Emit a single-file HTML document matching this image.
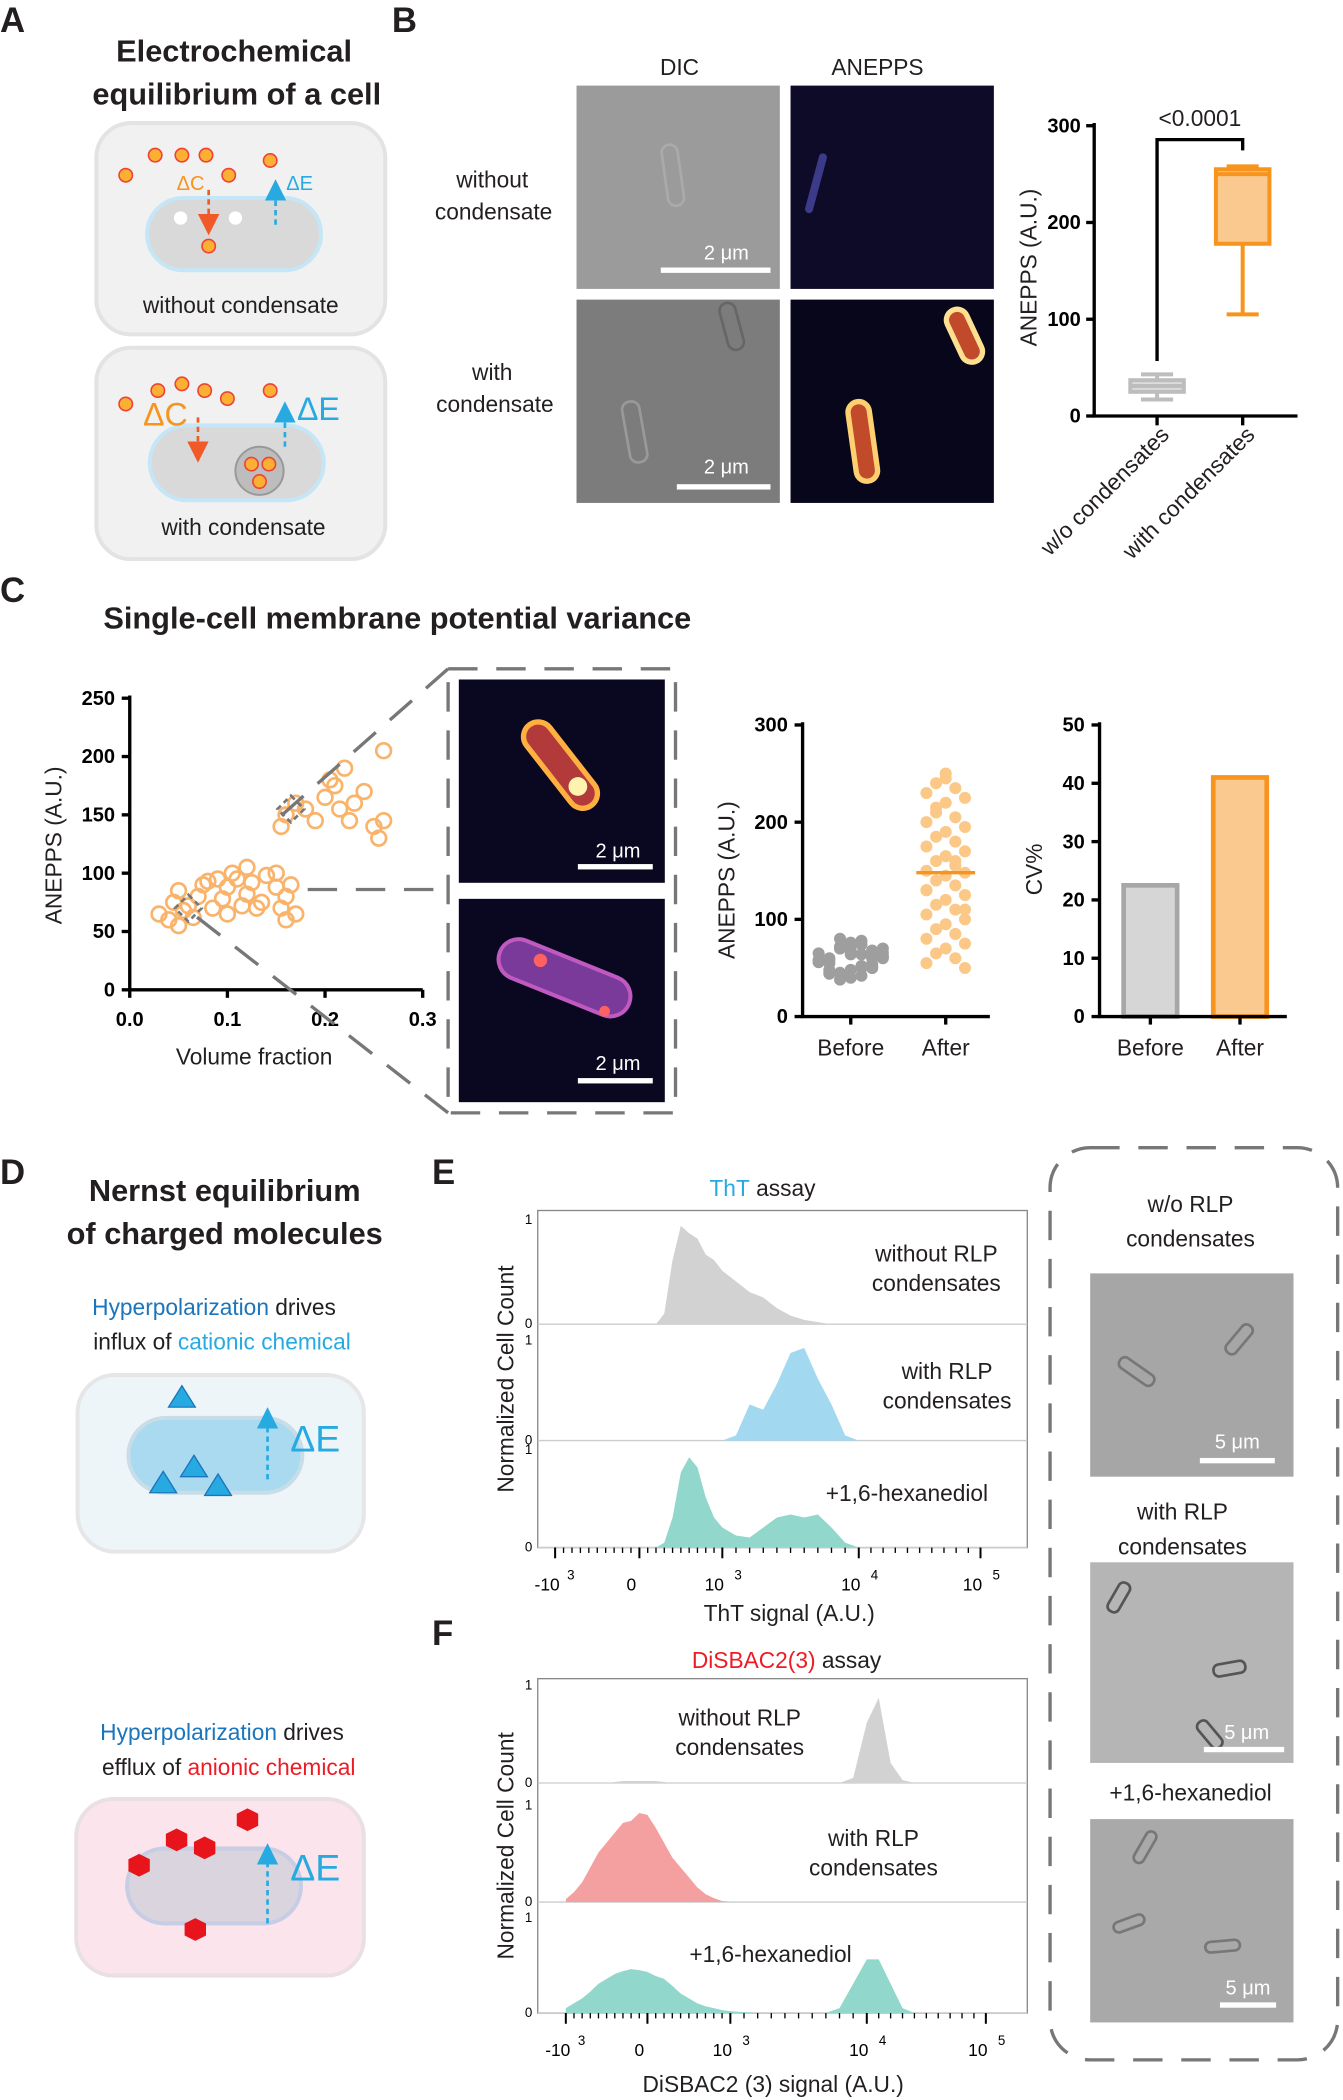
<!DOCTYPE html>
<html><head><meta charset="utf-8"><style>
html,body{margin:0;padding:0;background:#fff;}
svg{display:block;font-family:"Liberation Sans Narrow","Liberation Sans",sans-serif;}
.t{font-size:17px;fill:#231f20}
.b{font-weight:bold;font-size:23px;fill:#231f20}
.L{font-weight:bold;font-size:26px;fill:#231f20;font-family:"Liberation Sans",sans-serif}
.ax{stroke:#000;stroke-width:2.5;fill:none}
.tk{font-size:15px;font-weight:bold;fill:#000;font-family:"Liberation Sans",sans-serif}
</style></head><body>
<svg id="fig" width="1343" height="2100" viewBox="0 0 1004 1570" preserveAspectRatio="none" xmlns="http://www.w3.org/2000/svg">
<defs>
<marker id="ao" markerWidth="8" markerHeight="8" refX="4" refY="4" orient="auto"><path d="M0,0L8,4L0,8z" fill="#f05a28"/></marker>
<marker id="ab" markerWidth="8" markerHeight="8" refX="4" refY="4" orient="auto"><path d="M0,0L8,4L0,8z" fill="#27aae1"/></marker>
</defs>
<!-- Panel A -->
<g>
<text class="L" x="0" y="24">A</text>
<text class="b" x="175" y="46" text-anchor="middle">Electrochemical</text>
<text class="b" x="177" y="78" text-anchor="middle">equilibrium of a cell</text>
<rect x="72" y="92" width="216" height="158" rx="26" fill="#f1f1f1" stroke="#e3e3e3" stroke-width="3"/>
<rect x="110" y="148" width="130" height="54" rx="27" fill="#d9d9d9" stroke="#c5e6f6" stroke-width="3"/>
<circle cx="135" cy="163" r="5" fill="#fff"/><circle cx="176" cy="163" r="5" fill="#fff"/>
<g fill="#fbb034" stroke="#ef4136" stroke-width="1.2">
<circle cx="94" cy="131" r="5"/><circle cx="116" cy="116" r="5"/><circle cx="136" cy="116" r="5"/><circle cx="154" cy="116" r="5"/><circle cx="171" cy="131" r="5"/><circle cx="202" cy="120" r="5"/><circle cx="156" cy="184" r="5"/></g>
<line x1="156" y1="142" x2="156" y2="168" stroke="#f05a28" stroke-width="2" stroke-dasharray="4,3" marker-end="url(#ao)"/>
<line x1="206" y1="168" x2="206" y2="142" stroke="#27aae1" stroke-width="2" stroke-dasharray="4,3" marker-end="url(#ab)"/>
<text x="132" y="142" font-size="15" fill="#f7941d">ΔC</text><text x="214" y="142" font-size="15" fill="#27aae1">ΔE</text>
<text class="t" x="180" y="234" text-anchor="middle">without condensate</text>
<rect x="72" y="260" width="216" height="158" rx="26" fill="#f1f1f1" stroke="#e3e3e3" stroke-width="3"/>
<rect x="112" y="318" width="130" height="56" rx="28" fill="#d9d9d9" stroke="#c5e6f6" stroke-width="3"/>
<circle cx="194" cy="352" r="18" fill="#bdbdbd" stroke="#999" stroke-width="1.5"/>
<g fill="#fbb034" stroke="#ef4136" stroke-width="1.2">
<circle cx="94" cy="302" r="5"/><circle cx="118" cy="292" r="5"/><circle cx="136" cy="287" r="5"/><circle cx="153" cy="292" r="5"/><circle cx="170" cy="298" r="5"/><circle cx="202" cy="292" r="5"/><circle cx="188" cy="347" r="5"/><circle cx="201" cy="347" r="5"/><circle cx="194" cy="360" r="5"/></g>
<line x1="148" y1="312" x2="148" y2="338" stroke="#f05a28" stroke-width="2" stroke-dasharray="4,3" marker-end="url(#ao)"/>
<line x1="213" y1="334" x2="213" y2="308" stroke="#27aae1" stroke-width="2" stroke-dasharray="4,3" marker-end="url(#ab)"/>
<text x="107" y="318" font-size="24" fill="#f7941d">ΔC</text><text x="222" y="314" font-size="24" fill="#27aae1">ΔE</text>
<text class="t" x="182" y="400" text-anchor="middle">with condensate</text>
</g>
<!-- Panel B -->
<g>
<text class="L" x="293" y="24">B</text>
<text class="t" x="508" y="56" text-anchor="middle">DIC</text><text class="t" x="656" y="56" text-anchor="middle">ANEPPS</text>
<text class="t" x="368" y="140" text-anchor="middle">without</text><text class="t" x="369" y="164" text-anchor="middle">condensate</text>
<text class="t" x="368" y="284" text-anchor="middle">with</text><text class="t" x="370" y="308" text-anchor="middle">condensate</text>
<rect x="431" y="64" width="152" height="152" fill="#9b9b9b"/>
<rect x="497" y="108" width="12" height="46" rx="6" fill="none" stroke="#aaa" stroke-width="2" transform="rotate(-8 503 131)"/>
<rect x="494" y="200" width="82" height="4" fill="#fff"/><text x="543" y="194" font-size="15" fill="#fff" text-anchor="middle">2 μm</text>
<rect x="591" y="64" width="152" height="152" fill="#0e0b28"/>
<rect x="607" y="114" width="6" height="46" rx="3" fill="#3b3b8a" transform="rotate(15 610 137)"/>
<rect x="431" y="224" width="152" height="152" fill="#7c7c7c"/>
<rect x="468" y="300" width="13" height="46" rx="6" fill="none" stroke="#999" stroke-width="2" transform="rotate(-10 474 323)"/>
<rect x="541" y="226" width="12" height="36" rx="6" fill="none" stroke="#666" stroke-width="2" transform="rotate(-15 547 244)"/>
<rect x="506" y="362" width="70" height="4" fill="#fff"/><text x="543" y="354" font-size="15" fill="#fff" text-anchor="middle">2 μm</text>
<rect x="591" y="224" width="152" height="152" fill="#07061a"/>
<rect x="637" y="300" width="16" height="60" rx="8" fill="#c04a2a" stroke="#ffd070" stroke-width="4" transform="rotate(-8 645 330)"/>
<rect x="713" y="230" width="16" height="42" rx="8" fill="#c04a2a" stroke="#ffe090" stroke-width="4" transform="rotate(-25 721 251)"/>
<g id="boxplot"></g>
</g>
<!-- Panel C -->
<g>
<text class="L" x="0" y="450">C</text>
<text class="b" x="297" y="470" text-anchor="middle">Single-cell membrane potential variance</text>
<g id="scatter"></g>
<g stroke="#777" stroke-width="2.5" fill="none" stroke-dasharray="22,14">
<path d="M335,500 L505,500 L505,832 L335,832 Z"/>
<line x1="335" y1="500" x2="210" y2="610"/><line x1="230" y1="665" x2="335" y2="665"/><line x1="335" y1="832" x2="140" y2="680"/>
</g>
<rect x="343" y="508" width="154" height="152" fill="#0a0820"/>
<rect x="408" y="534" width="22" height="76" rx="11" fill="#b23a3a" stroke="#ffb040" stroke-width="4" transform="rotate(-38 419 572)"/>
<circle cx="432" cy="588" r="7" fill="#fff3b0"/>
<rect x="432" y="646" width="56" height="4" fill="#fff"/><text x="462" y="641" font-size="15" fill="#fff" text-anchor="middle">2 μm</text>
<rect x="343" y="672" width="154" height="152" fill="#0a0820"/>
<rect x="370" y="716" width="104" height="30" rx="15" fill="#7a3a9a" stroke="#c05ac0" stroke-width="3" transform="rotate(22 422 731)"/>
<circle cx="404" cy="718" r="5" fill="#ff6060"/><circle cx="452" cy="756" r="4" fill="#ff6060"/>
<rect x="432" y="806" width="56" height="4" fill="#fff"/><text x="462" y="800" font-size="15" fill="#fff" text-anchor="middle">2 μm</text>
<g id="dotplot"></g>
<g id="cvbars"></g>
</g>
<!-- Panel D -->
<g>
<text class="L" x="0" y="885">D</text>
<text class="b" x="168" y="898" text-anchor="middle">Nernst equilibrium</text>
<text class="b" x="168" y="930" text-anchor="middle">of  charged molecules</text>
<text class="t" x="160" y="983" text-anchor="middle"><tspan fill="#1b75bc">Hyperpolarization</tspan> drives</text>
<text class="t" x="166" y="1009" text-anchor="middle">influx of <tspan fill="#27aae1">cationic chemical</tspan></text>
<rect x="58" y="1028" width="214" height="132" rx="28" fill="#eef5f9" stroke="#e6e6e6" stroke-width="3"/>
<rect x="96" y="1060" width="130" height="56" rx="28" fill="#a9daf0" stroke="#c8dde8" stroke-width="3"/>
<g fill="#27aae1" stroke="#1b75bc" stroke-width="1"><path d="M136,1036 L146,1052 L126,1052Z"/><path d="M145,1088 L155,1104 L135,1104Z"/><path d="M122,1100 L132,1116 L112,1116Z"/><path d="M163,1102 L173,1118 L153,1118Z"/></g>
<line x1="200" y1="1106" x2="200" y2="1060" stroke="#27aae1" stroke-width="2" stroke-dasharray="4,3" marker-end="url(#ab)"/>
<text x="217" y="1085" font-size="28" fill="#27aae1">ΔE</text>
<text class="t" x="166" y="1301" text-anchor="middle"><tspan fill="#1b75bc">Hyperpolarization</tspan> drives</text>
<text class="t" x="171" y="1327" text-anchor="middle">efflux of <tspan fill="#ed1c24">anionic chemical</tspan></text>
<rect x="57" y="1345" width="215" height="132" rx="28" fill="#fce4ec" stroke="#e9e0e3" stroke-width="3"/>
<rect x="95" y="1382" width="130" height="56" rx="28" fill="#dad4de" stroke="#c6cde4" stroke-width="3"/>
<g fill="#e8141c"><polygon points="185,1352 193,1356 193,1365 185,1369 177,1365 177,1356"/><polygon points="132,1367 140,1371 140,1380 132,1384 124,1380 124,1371"/><polygon points="153,1373 161,1377 161,1386 153,1390 145,1386 145,1377"/><polygon points="104,1386 112,1390 112,1399 104,1403 96,1399 96,1390"/><polygon points="146,1434 154,1438 154,1447 146,1451 138,1447 138,1438"/></g>
<line x1="200" y1="1438" x2="200" y2="1386" stroke="#27aae1" stroke-width="2" stroke-dasharray="4,3" marker-end="url(#ab)"/>
<text x="217" y="1406" font-size="28" fill="#27aae1">ΔE</text>
</g>
<!-- Panel E/F -->
<text class="L" x="323" y="885">E</text>
<text class="t" x="570" y="894" text-anchor="middle" font-size="18"><tspan fill="#27aae1">ThT</tspan> assay</text>
<g id="histE"></g>
<text class="t" x="590" y="1212" text-anchor="middle">ThT signal (A.U.)</text>
<text class="L" x="323" y="1230">F</text>
<text class="t" x="588" y="1247" text-anchor="middle" font-size="18"><tspan fill="#ed1c24">DiSBAC2(3)</tspan> assay</text>
<g id="histF"></g>
<text class="t" x="578" y="1564" text-anchor="middle">DiSBAC2 (3) signal (A.U.)</text>
<!-- Right images -->
<g>
<rect x="785" y="858" width="215" height="682" rx="30" fill="none" stroke="#777" stroke-width="2.5" stroke-dasharray="22,14"/>
<text class="t" x="890" y="906" text-anchor="middle" font-size="19">w/o RLP</text><text class="t" x="890" y="932" text-anchor="middle" font-size="19">condensates</text>
<rect x="815" y="952" width="152" height="152" fill="#a6a6a6"/>
<rect x="845" y="1010" width="9" height="30" rx="4" fill="none" stroke="#777" stroke-width="2" transform="rotate(-55 850 1025)"/>
<rect x="922" y="988" width="9" height="26" rx="4" fill="none" stroke="#777" stroke-width="2" transform="rotate(40 926 1001)"/>
<rect x="897" y="1090" width="56" height="4" fill="#fff"/><text x="925" y="1083" font-size="15" fill="#fff" text-anchor="middle">5 μm</text>
<text class="t" x="884" y="1136" text-anchor="middle" font-size="19">with RLP</text><text class="t" x="884" y="1162" text-anchor="middle" font-size="19">condensates</text>
<rect x="815" y="1168" width="152" height="150" fill="#b5b5b5"/>
<rect x="832" y="1182" width="9" height="24" rx="4" fill="none" stroke="#555" stroke-width="2" transform="rotate(30 836 1194)"/>
<rect x="915" y="1235" width="9" height="24" rx="4" fill="none" stroke="#555" stroke-width="2" transform="rotate(80 919 1247)"/>
<rect x="900" y="1285" width="9" height="24" rx="4" fill="none" stroke="#555" stroke-width="2" transform="rotate(-40 904 1297)"/>
<rect x="900" y="1306" width="60" height="4" fill="#fff"/><text x="932" y="1300" font-size="15" fill="#fff" text-anchor="middle">5 μm</text>
<text class="t" x="890" y="1346" text-anchor="middle" font-size="19">+1,6-hexanediol</text>
<rect x="815" y="1360" width="152" height="152" fill="#a9a9a9"/>
<rect x="852" y="1368" width="8" height="26" rx="4" fill="none" stroke="#777" stroke-width="2" transform="rotate(30 856 1381)"/>
<rect x="840" y="1426" width="8" height="24" rx="4" fill="none" stroke="#777" stroke-width="2" transform="rotate(70 844 1438)"/>
<rect x="910" y="1442" width="8" height="26" rx="4" fill="none" stroke="#777" stroke-width="2" transform="rotate(85 914 1455)"/>
<rect x="912" y="1497" width="42" height="4" fill="#fff"/><text x="933" y="1491" font-size="15" fill="#fff" text-anchor="middle">5 μm</text>
</g>
</svg>
<script>
// ---------- data ----------
const boxCategories = ["w/o condensates", "with condensates"];
const boxMin = [17, 105];
const boxQ1 = [25, 178];
const boxMedian = [31, 250];
const boxQ3 = [37, 255];
const boxMax = [43, 258];
const boxTicks = [0, 100, 200, 300];
const pLabel = "<0.0001";

const scatterVF = [0.03,0.04,0.045,0.05,0.05,0.055,0.06,0.065,0.07,0.075,0.08,0.085,0.09,0.095,0.1,0.1,0.105,0.11,0.115,0.12,0.12,0.125,0.13,0.135,0.14,0.15,0.15,0.155,0.16,0.16,0.165,0.17,0.155,0.16,0.17,0.18,0.19,0.2,0.205,0.21,0.22,0.225,0.23,0.24,0.25,0.255,0.26,0.26,0.215];
const scatterANEPPS = [65,60,75,85,55,68,72,62,80,90,93,70,95,78,88,65,100,95,72,82,105,92,70,75,98,88,100,70,60,80,90,65,140,150,160,155,145,165,180,175,190,145,160,170,140,130,145,205,155];
const scatterXTicks = [0.0, 0.1, 0.2, 0.3];
const scatterYTicks = [0, 50, 100, 150, 200, 250];
const diamondVF = [0.06, 0.165];
const diamondANEPPS = [70, 155];

const dotCategories = ["Before", "After"];
const beforeValues = [40,45,50,55,60,65,70,75,80,42,48,52,58,62,68,72,78,44,50,56,60,64,70,74,46,54,58,66,76,38,52,60,68,56,62,48,70,64,58,50];
const afterValues = [250,240,235,230,225,220,210,205,200,195,190,185,180,175,170,165,160,155,150,148,145,140,135,130,125,120,115,110,105,100,95,90,85,80,75,70,65,60,55,50,245,215,160,130,110];
const afterMedian = 148;
const dotTicks = [0, 100, 200, 300];

const cvCategories = ["Before", "After"];
const cvValues = [22.5, 41];
const cvTicks = [0, 10, 20, 30, 40, 50];

const binT = [-1.0,-0.9,-0.8,-0.7,-0.6,-0.5,-0.4,-0.3,-0.2,-0.1,0.0,0.1,0.2,0.3,0.4,0.5,0.6,0.7,0.8,0.9,1.0,1.1,1.2,1.3,1.4,1.5,1.6,1.7,1.8,1.9,2.0,2.1,2.2,2.3,2.4,2.5,2.6,2.7,2.8,2.9,3.0];
const thtWithout = [0,0,0,0,0,0,0,0,0,0,0,0,0,0.1,0.6,0.92,0.85,0.8,0.65,0.6,0.5,0.4,0.3,0.25,0.15,0.08,0.04,0.02,0,0,0,0,0,0,0,0,0,0,0,0,0];
const thtWith = [0,0,0,0,0,0,0,0,0,0,0,0,0,0,0,0,0,0,0,0,0,0.05,0.35,0.3,0.55,0.85,0.9,0.6,0.35,0.05,0,0,0,0,0,0,0,0,0,0,0];
const thtHex = [0,0,0,0,0,0,0,0,0,0,0,0,0,0.05,0.3,0.75,0.9,0.8,0.5,0.3,0.2,0.12,0.1,0.2,0.3,0.33,0.3,0.33,0.2,0.05,0,0,0,0,0,0,0,0,0,0,0];
const disWithout = [0,0,0,0,0,0,0.01,0.02,0.02,0.02,0.02,0.02,0.01,0,0,0,0,0,0,0,0,0,0,0,0,0,0,0,0,0.05,0.6,0.85,0.2,0.03,0,0,0,0,0,0,0];
const disWith = [0.03,0.1,0.2,0.35,0.5,0.6,0.7,0.8,0.82,0.9,0.88,0.75,0.6,0.45,0.35,0.25,0.15,0.08,0.04,0.01,0,0,0,0,0,0,0,0,0,0,0,0,0,0,0,0,0,0,0,0,0];
const disHex = [0.05,0.1,0.15,0.22,0.3,0.35,0.4,0.43,0.45,0.44,0.42,0.38,0.35,0.28,0.2,0.15,0.1,0.07,0.05,0.03,0.02,0.01,0,0,0,0,0,0,0.05,0.3,0.55,0.55,0.3,0.05,0,0,0,0,0,0,0];
const tickExpLabels = ["-10","0","10","10","10"];
const tickExpPowers = ["3","","3","4","5"];
const tickT = [-1, 0, 1, 2, 3];

// ---------- helpers ----------
const NS = "http://www.w3.org/2000/svg";
function mk(parent, tag, attrs, text) {
  const el = document.createElementNS(NS, tag);
  for (const k in attrs) el.setAttribute(k, attrs[k]);
  if (text !== undefined) el.textContent = text;
  parent.appendChild(el);
  return el;
}

// ---------- Box plot ----------
(function(){
  const g = document.getElementById('boxplot');
  const y = v => 311 - v * (217/300);
  const xc = [865, 929];
  mk(g,'path',{d:'M818,92 L818,311 L970,311',class:'ax'});
  boxTicks.forEach(t=>{
    mk(g,'line',{x1:812,x2:818,y1:y(t),y2:y(t),stroke:'#000','stroke-width':2.5});
    const tx = mk(g,'text',{x:808,y:y(t)+5,'text-anchor':'end',class:'tk'},t);
    
    
  });
  const yl = mk(g,'text',{x:0,y:0,class:'t',transform:'translate(775,200) rotate(-90)','text-anchor':'middle'},'ANEPPS (A.U.)');
  
  
  const cols = [['#bdbdbd','#dcdcdc'],['#f7941d','#f9c98f']];
  boxCategories.forEach((c,i)=>{
    const x = xc[i], w = 40, col = cols[i];
    mk(g,'line',{x1:x,x2:x,y1:y(boxMin[i]),y2:y(boxMax[i]),stroke:col[0],'stroke-width':3});
    mk(g,'line',{x1:x-12,x2:x+12,y1:y(boxMin[i]),y2:y(boxMin[i]),stroke:col[0],'stroke-width':3});
    mk(g,'line',{x1:x-12,x2:x+12,y1:y(boxMax[i]),y2:y(boxMax[i]),stroke:col[0],'stroke-width':3});
    const r = mk(g,'rect',{x:x-w/2,y:y(boxQ3[i]),width:w,height:y(boxQ1[i])-y(boxQ3[i]),fill:col[1],stroke:col[0],'stroke-width':3});
    
    
    mk(g,'line',{x1:x-w/2,x2:x+w/2,y1:y(boxMedian[i]),y2:y(boxMedian[i]),stroke:col[0],'stroke-width':3});
    mk(g,'line',{x1:x,x2:x,y1:311,y2:318,stroke:'#000','stroke-width':2.5});
    const lt = mk(g,'text',{x:0,y:0,class:'t',transform:`translate(${x+10},${326}) rotate(-45)`,'text-anchor':'end','font-size':18},c);
    
    
  });
  const top = y(Math.max(...boxMax)) - 20;
  mk(g,'path',{d:`M${xc[0]},${y(boxMax[0])-10} L${xc[0]},${top} L${xc[1]},${top} L${xc[1]},${y(boxMax[1])-12}`,fill:'none',stroke:'#000','stroke-width':2.5});
  const pl = mk(g,'text',{x:897,y:top-10,class:'t','text-anchor':'middle'},pLabel);
  
  
})();

// ---------- Scatter ----------
(function(){
  const g = document.getElementById('scatter');
  const x = v => 97 + v * 730;
  const y = v => 740 - v * 0.872;
  mk(g,'path',{d:'M97,520 L97,740 L316,740',class:'ax'});
  scatterYTicks.forEach(t=>{
    mk(g,'line',{x1:91,x2:97,y1:y(t),y2:y(t),stroke:'#000','stroke-width':2.5});
    const tx = mk(g,'text',{x:86,y:y(t)+5,'text-anchor':'end',class:'tk'},t);
    
    
  });
  scatterXTicks.forEach(t=>{
    mk(g,'line',{x1:x(t),x2:x(t),y1:740,y2:746,stroke:'#000','stroke-width':2.5});
    const tx = mk(g,'text',{x:x(t),y:767,'text-anchor':'middle',class:'tk'},t.toFixed(1));
    
    
  });
  const yl = mk(g,'text',{x:0,y:0,class:'t',transform:'translate(46,632) rotate(-90)','text-anchor':'middle'},'ANEPPS (A.U.)');
  
  
  const xl = mk(g,'text',{x:190,y:796,class:'t','text-anchor':'middle'},'Volume fraction');
  
  
  scatterVF.forEach((v,i)=>{
    const c = mk(g,'circle',{cx:x(v),cy:y(scatterANEPPS[i]),r:5.5,fill:'none',stroke:'#f9b36a','stroke-width':2});
    
    
  });
  diamondVF.forEach((v,i)=>{
    const cx = x(v), cy = y(diamondANEPPS[i]);
    const d = mk(g,'path',{d:`M${cx},${cy-10} L${cx+10},${cy} L${cx},${cy+10} L${cx-10},${cy}Z`,fill:'none',stroke:'#777','stroke-width':2,'stroke-dasharray':'4,3'});
    
    
  });
})();

// ---------- Dot plot ----------
(function(){
  const g = document.getElementById('dotplot');
  const y = v => 760 - v * (218/300);
  const xc = [636, 707];
  mk(g,'path',{d:'M600,540 L600,760 L740,760',class:'ax'});
  dotTicks.forEach(t=>{
    mk(g,'line',{x1:594,x2:600,y1:y(t),y2:y(t),stroke:'#000','stroke-width':2.5});
    const tx = mk(g,'text',{x:589,y:y(t)+5,'text-anchor':'end',class:'tk'},t);
    
    
  });
  const yl = mk(g,'text',{x:0,y:0,class:'t',transform:'translate(549,658) rotate(-90)','text-anchor':'middle'},'ANEPPS (A.U.)');
  
  
  dotCategories.forEach((c,i)=>{
    mk(g,'line',{x1:xc[i],x2:xc[i],y1:760,y2:766,stroke:'#000','stroke-width':2.5});
    const tx = mk(g,'text',{x:xc[i],y:789,class:'t','text-anchor':'middle','font-size':18},c);
    
    
  });
  const spread = [0,-8,8,-16,16,-24,24];
  beforeValues.forEach((v,i)=>{
    const c = mk(g,'circle',{cx:xc[0]+spread[i%7],cy:y(v),r:4.5,fill:'#9e9e9e'});
    
    
  });
  afterValues.forEach((v,i)=>{
    const c = mk(g,'circle',{cx:xc[1]+spread[i%5]*0.9,cy:y(v),r:4.5,fill:'#fbc887'});
    
    
  });
  mk(g,'line',{x1:xc[1]-22,x2:xc[1]+22,y1:y(afterMedian),y2:y(afterMedian),stroke:'#f7941d','stroke-width':2.5});
})();

// ---------- CV bars ----------
(function(){
  const g = document.getElementById('cvbars');
  const y = v => 760 - v * (218/50);
  const xc = [860, 927];
  const cols = [['#a7a7a7','#d6d6d6'],['#f7941d','#f9c98f']];
  cvCategories.forEach((c,i)=>{
    const r = mk(g,'rect',{x:xc[i]-20,y:y(cvValues[i]),width:40,height:760-y(cvValues[i]),fill:cols[i][1],stroke:cols[i][0],'stroke-width':3.5});
    
    
    mk(g,'line',{x1:xc[i],x2:xc[i],y1:760,y2:766,stroke:'#000','stroke-width':2.5});
    const tx = mk(g,'text',{x:xc[i],y:789,class:'t','text-anchor':'middle','font-size':18},c);
    
    
  });
  mk(g,'path',{d:'M822,540 L822,760 L962,760',class:'ax'});
  cvTicks.forEach(t=>{
    mk(g,'line',{x1:816,x2:822,y1:y(t),y2:y(t),stroke:'#000','stroke-width':2.5});
    const tx = mk(g,'text',{x:811,y:y(t)+5,'text-anchor':'end',class:'tk'},t);
    
    
  });
  const yl = mk(g,'text',{x:0,y:0,class:'t',transform:'translate(779,650) rotate(-90)','text-anchor':'middle'},'CV%');
  
  
})();

// ---------- Histograms ----------
function drawHist(gid, anchorsPx, frame, rows, series, colors, labels, labelPos) {
  const g = document.getElementById(gid);
  const xOf = t => { const i = Math.max(0, Math.min(3, Math.floor(t + 1))); const f = t + 1 - i; return anchorsPx[i] + (anchorsPx[i+1]-anchorsPx[i]) * f; };
  mk(g,'rect',{x:frame[0],y:frame[1],width:frame[2]-frame[0],height:frame[3]-frame[1],fill:'none',stroke:'#888','stroke-width':1});
  series.forEach((vals,si)=>{
    const base = rows[si][1], h = rows[si][1]-rows[si][0];
    mk(g,'line',{x1:frame[0],x2:frame[2],y1:base,y2:base,stroke:'#ccc','stroke-width':1});
    let d = `M${xOf(binT[0])},${base}`;
    binT.forEach((t,i)=>{ d += ` L${xOf(t)},${base - vals[i]*h}`; });
    d += ` L${xOf(binT[binT.length-1])},${base}Z`;
    const p = mk(g,'path',{d:d,fill:colors[si],stroke:'none'});
    
    
    mk(g,'text',{x:frame[0]-4,y:rows[si][0]+5,'font-size':10,'text-anchor':'end'},'1');
    mk(g,'text',{x:frame[0]-4,y:base+3,'font-size':10,'text-anchor':'end'},'0');
    labels[si].forEach((ln,k)=>{
      const tx = mk(g,'text',{x:labelPos[si][0],y:labelPos[si][1]+k*22,class:'t','text-anchor':'middle'},ln);
      
      
    });
  });
  tickT.forEach((t,i)=>{
    const px = xOf(t);
    mk(g,'line',{x1:px,x2:px,y1:frame[3],y2:frame[3]+8,stroke:'#000','stroke-width':1.5});
    const tx = mk(g,'text',{x:px-6,y:frame[3]+32,'font-size':13,'text-anchor':'middle',fill:'#000'},tickExpLabels[i]);
    
    
    if (tickExpPowers[i]) mk(g,'text',{x:px+9,y:frame[3]+24,'font-size':10,fill:'#000'},tickExpPowers[i]);
  });
  for (let t = -1; t < 3; t += 0.1) {
    const px = xOf(t);
    mk(g,'line',{x1:px,x2:px,y1:frame[3],y2:frame[3]+4,stroke:'#000','stroke-width':1});
  }
  const yl = mk(g,'text',{x:0,y:0,class:'t',transform:`translate(${frame[0]-18},${(frame[1]+frame[3])/2}) rotate(-90)`,'text-anchor':'middle','font-size':18},'Normalized Cell Count');
  
  
}
drawHist('histE',[415,478,540,642,733],[402,905,768,1157],[[910,990],[1000,1077],[1082,1157]],
  [thtWithout,thtWith,thtHex],['#d2d2d2','#a2d8f0','#92d7cb'],
  [['without RLP','condensates'],['with RLP','condensates'],['+1,6-hexanediol']],[[700,943],[708,1031],[678,1122]]);
drawHist('histF',[423,484,546,648,737],[402,1255,768,1505],[[1258,1333],[1348,1422],[1432,1505]],
  [disWithout,disWith,disHex],['#d2d2d2','#f5a0a0','#92d7cb'],
  [['without RLP','condensates'],['with RLP','condensates'],['+1,6-hexanediol']],[[553,1290],[653,1380],[576,1467]]);
</script>
</body></html>
